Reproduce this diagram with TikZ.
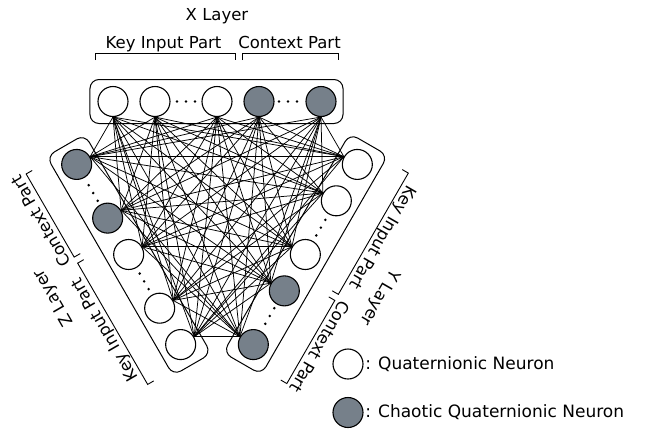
\documentclass[tikz,border=0pt]{standalone}
\usepackage{fontspec}
\setmainfont{DejaVu Sans}
\definecolor{chaos}{RGB}{118,128,138}
\tikzset{
  neuron/.style={circle, draw, line width=1.1pt, minimum size=30pt, inner sep=0pt, fill=white},
  chaotic/.style={neuron, fill=chaos},
  layerbox/.style={draw, line width=1pt, rounded corners=9pt},
  bracketline/.style={line width=0.9pt},
  link/.style={line width=0.75pt},
  lbl/.style={font=\fontsize{16.5}{18}\selectfont, inner sep=0pt, transform shape},
  legtext/.style={font=\fontsize{17}{19}\selectfont, inner sep=1.5pt, anchor=west},
  seqdot/.style={circle, fill, inner sep=0pt, minimum size=2.8pt}
}
% One layer of five neurons, with its box, brackets and labels.
% #1 rotation, #2 node prefix, #3 layer title
\newcommand\quatlayer[3]{%
  \begin{scope}[rotate=#1]
    \draw[layerbox] (-127,80) rectangle (126,124);
    \node[neuron]  (#2-1) at (-104,102) {};
    \node[neuron]  (#2-2) at (-62,102) {};
    \node[neuron]  (#2-3) at (0,102) {};
    \node[chaotic] (#2-4) at (42,102) {};
    \node[chaotic] (#2-5) at (104,102) {};
    \node[seqdot] (#2-d1) at (-40,102) {};
    \node[seqdot] (#2-d2) at (-31,102) {};
    \node[seqdot] (#2-d3) at (-22,102) {};
    \node[seqdot] (#2-d4) at (62,102) {};
    \node[seqdot] (#2-d5) at (71,102) {};
    \node[seqdot] (#2-d6) at (80,102) {};
    \draw[bracketline] (-122,143.5) -- (-122,150.5) -- (18,150.5) -- (18,143.5);
    \draw[bracketline] (25,143.5) -- (25,150.5) -- (121,150.5) -- (121,143.5);
    \node[lbl, anchor=base] (#2-key) at (-53.5,155.3) {Key Input Part};
    \node[lbl, anchor=base] (#2-ctx) at (72.5,155.3) {Context Part};
    \node[lbl, anchor=base] (#2-title) at (0,183.5) {#3};
  \end{scope}}
\begin{document}
\begin{tikzpicture}[x=1pt, y=1pt]
  \useasboundingbox (-217,-228.5) rectangle (428,203.5);
  \quatlayer{0}{X}{X Layer}
  \quatlayer{-120}{Y}{Y Layer}
  \quatlayer{120}{Z}{Z Layer}
  % full connections between the three layers
  \foreach \i in {1,...,5} {
    \foreach \j in {1,...,5} {
      \draw[link] (X-\i.270) -- (Y-\j.150);
      \draw[link] (X-\i.270) -- (Z-\j.30);
      \draw[link] (Y-\i.150) -- (Z-\j.30);
    }
  }
  % legend
  \node[neuron]  (legq) at (131,-160.5) {};
  \node[legtext] (legqt) at (legq.east) {: Quaternionic Neuron};
  \node[chaotic] (legc) at (131,-209) {};
  \node[legtext] (legct) at (legc.east) {: Chaotic Quaternionic Neuron};
\end{tikzpicture}
\end{document}
